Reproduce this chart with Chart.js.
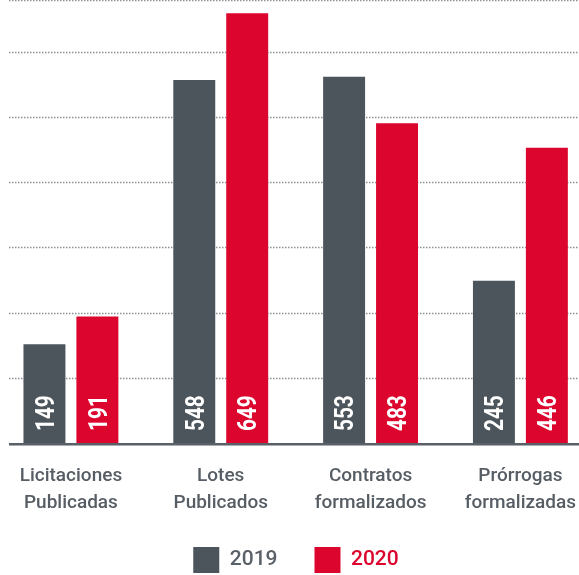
<!DOCTYPE html>
<html lang="es">
<head>
<meta charset="UTF-8">
<title>Licitaciones y contratos 2019-2020</title>
<style>
    * { margin: 0; padding: 0; box-sizing: border-box; }
    body { width: 579px; height: 575px; overflow: hidden; background: #fff; }
    .wrap { position: relative; width: 579px; height: 575px; overflow: hidden; }
    /* canvas is a bit wider than the page so the four groups sit at 150px steps */
    #chart { position: absolute; left: -4px; top: 0; }
</style>
</head>
<body>
<div class="wrap"><canvas id="chart" width="600" height="583"></canvas></div>

<script src="https://cdn.jsdelivr.net/npm/chart.js"></script>
<script>
    const categories = [
        ['Licitaciones', 'Publicadas'],
        ['Lotes', 'Publicados'],
        ['Contratos', 'formalizados'],
        ['Prórrogas', 'formalizadas']
    ];
    const years = ['2019', '2020'];
    const values2019 = [149, 548, 553, 245];
    const values2020 = [191, 649, 483, 446];

    const grey = '#4c545c';
    const red = '#dc052d';
    const yMax = 669;        // top of the plot
    const gridStep = 98.5;   // spacing of the dotted guide lines
    const plotBottom = 443;  // baseline position in canvas pixels

    // dotted guides, baseline and the rotated numbers inside the bars
    const barDecor = {
        id: 'barDecor',
        beforeDatasetsDraw(chart) {
            const { ctx, chartArea, scales: { y } } = chart;
            ctx.save();
            ctx.strokeStyle = '#8d9197';
            ctx.lineWidth = 1.5;
            ctx.setLineDash([1.5, 1.5]);
            y.ticks.forEach(t => {
                if (t.value === 0) return;
                const py = Math.round(y.getPixelForValue(t.value)) + 0.5;
                ctx.beginPath();
                ctx.moveTo(13, py);
                ctx.lineTo(chartArea.right, py);
                ctx.stroke();
            });
            ctx.restore();
        },
        afterDatasetsDraw(chart) {
            const { ctx, chartArea } = chart;
            ctx.save();
            ctx.fillStyle = '#5a6067';
            ctx.fillRect(13, chartArea.bottom, chartArea.right - 13, 2);
            ctx.fillStyle = '#a9adb1';
            ctx.fillRect(13, chartArea.bottom + 2, chartArea.right - 13, 1);

            const size = 26;
            ctx.font = 'bold ' + size + 'px Roboto';
            ctx.fillStyle = '#ffffff';
            ctx.textAlign = 'left';
            ctx.textBaseline = 'alphabetic';
            chart.data.datasets.forEach((ds, i) => {
                chart.getDatasetMeta(i).data.forEach((bar, j) => {
                    ctx.save();
                    ctx.translate(bar.x, bar.base - 12);
                    ctx.rotate(-Math.PI / 2);
                    ctx.scale(0.8, 1);
                    ctx.fillText(String(ds.data[j]), 0, size * 0.711 / 2);
                    ctx.restore();
                });
            });
            ctx.restore();
        }
    };

    new Chart(document.getElementById('chart'), {
        type: 'bar',
        data: {
            labels: categories,
            datasets: [
                {
                    label: years[0],
                    data: values2019,
                    backgroundColor: grey,
                    borderWidth: 0,
                    categoryPercentage: 0.7067,
                    barPercentage: 0.7925
                },
                {
                    label: years[1],
                    data: values2020,
                    backgroundColor: red,
                    borderWidth: 0,
                    categoryPercentage: 0.7067,
                    barPercentage: 0.7925
                }
            ]
        },
        options: {
            responsive: false,
            animation: false,
            layout: { padding: 0 },
            plugins: {
                tooltip: { enabled: false },
                legend: {
                    position: 'bottom',
                    labels: {
                        boxWidth: 26,
                        boxHeight: 26,
                        padding: 37,
                        font: { family: 'Roboto', size: 21, weight: '500' },
                        generateLabels(chart) {
                            const items = Chart.defaults.plugins.legend.labels.generateLabels(chart);
                            items.forEach((it, i) => {
                                it.fontColor = i === 0 ? '#5a6067' : red;
                                it.lineWidth = 0;
                            });
                            return items;
                        }
                    }
                }
            },
            scales: {
                x: {
                    grid: { display: false, drawTicks: false },
                    border: { display: false },
                    ticks: {
                        color: '#565d64',
                        font: { family: 'Roboto', size: 19, weight: '500', lineHeight: 1.4 },
                        padding: 20,
                        maxRotation: 0,
                        autoSkip: false
                    },
                    afterFit(scale) {
                        scale.height = scale.chart.height - scale.chart.legend.height - plotBottom;
                    }
                },
                y: {
                    display: false,
                    min: 0,
                    max: yMax,
                    ticks: { stepSize: gridStep }
                }
            }
        },
        plugins: [barDecor]
    });
</script>
</body>
</html>
